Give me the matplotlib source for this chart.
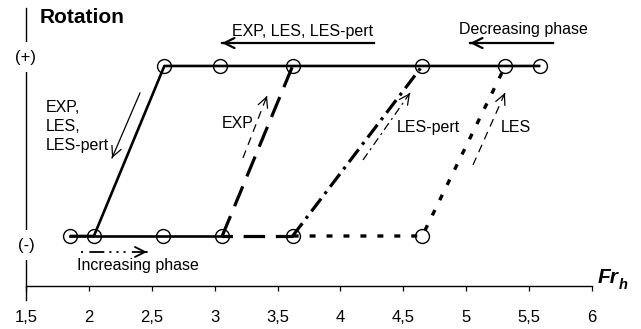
import matplotlib
matplotlib.use("Agg")
import matplotlib.pyplot as plt

plt.rcParams['font.family'] = ['Liberation Sans', 'DejaVu Sans']
plt.rcParams['lines.scale_dashes'] = False

# rotation state: 0 = (-), 1 = (+)
fr_top = [2.60, 3.04, 3.62, 4.65, 5.31, 5.59]
fr_bot = [1.85, 2.04, 2.59, 3.06, 3.62, 4.65]

# decreasing phase, shared by EXP, LES, LES-pert
dec_fr = [5.59, 2.60, 2.04, 1.85]
dec_rot = [1, 1, 0, 0]
# increasing phase, shared part
inc_fr = [1.85, 3.06]
inc_rot = [0, 0]
# EXP jump
exp_fr = [3.06, 3.62]
exp_rot = [0, 1]
# LES / LES-pert still (-)
les2_fr = [3.06, 3.62]
les2_rot = [0, 0]
# LES-pert jump
pert_fr = [3.62, 4.65]
pert_rot = [0, 1]
# LES (-) then jump
les_fr = [3.62, 4.65, 5.31]
les_rot = [0, 0, 1]

xticks = [1.5, 2, 2.5, 3, 3.5, 4, 4.5, 5, 5.5, 6]
xticklabels = ["1,5", "2", "2,5", "3", "3,5", "4", "4,5", "5", "5,5", "6"]

fig = plt.figure(figsize=(6.41, 3.29), dpi=100)
ax = fig.add_axes([26 / 641, 29 / 329, 566 / 641, 292 / 329])
ax.set_xlim(1.5, 6)
ax.set_ylim(-0.3765, 1.341)

k = 'black'
ax.plot(dec_fr, dec_rot, color=k, lw=1.9, solid_capstyle='butt')
ax.plot(inc_fr, inc_rot, color=k, lw=1.9)
ax.plot(exp_fr, exp_rot, color=k, lw=2.3, ls=(0, (15.5, 7.7)))
ax.plot(les2_fr, les2_rot, color=k, lw=2.3, ls=(8, (15.5, 7.7)))
ax.plot(pert_fr, pert_rot, color=k, lw=2.3, ls=(0, (11.5, 4.3, 2.2, 4.3)))
ax.plot(les_fr, les_rot, color=k, lw=2.4, ls=(0, (4.3, 7.9)))

ax.plot(fr_top, [1] * len(fr_top), 'o', ms=10, mfc='none', mec=k, mew=1.0)
ax.plot(fr_bot, [0] * len(fr_bot), 'o', ms=10, mfc='none', mec=k, mew=1.0)


def arrow(x0, y0, x1, y1, ls='-', lw=1.0):
    # shaft drawn as a line, head solid
    ax.plot([x0, x1], [y0, y1], color=k, lw=lw, ls=ls, clip_on=False)
    dx, dy = (x1 - x0) * 0.01, (y1 - y0) * 0.01
    ax.annotate('', xy=(x1, y1), xytext=(x1 - dx, y1 - dy),
                arrowprops=dict(arrowstyle='->,head_length=0.6,head_width=0.3',
                                color=k, lw=lw, shrinkA=0, shrinkB=0,
                                mutation_scale=12))


arrow(4.267, 1.135, 3.058, 1.135, lw=1.6)
arrow(5.690, 1.135, 5.030, 1.135, lw=1.6)
arrow(2.406, 0.841, 2.184, 0.459, lw=0.9)
arrow(3.225, 0.459, 3.416, 0.824, ls=(0, (5.8, 4.3)), lw=0.9)
arrow(4.179, 0.447, 4.553, 0.841, ls=(0, (5.8, 3.0, 1.5, 3.0)), lw=0.9)
arrow(5.054, 0.418, 5.308, 0.841, ls=(0, (5.8, 4.3)), lw=0.9)
arrow(1.937, -0.094, 2.462, -0.094, ls=(0, (1.5, 4.5, 10.8, 3.6, 1.5, 3.6, 1.5, 3.6)), lw=1.3)

fs = 11.5
ax.text(1.611, 1.288, "Rotation", fontsize=15, fontweight='bold', ha='left', va='center')
bb = dict(boxstyle='square,pad=0.45', fc='white', ec='none')
ax.text(1.5, 1.05, "(+)", fontsize=12, ha='center', va='center', bbox=bb)
ax.text(1.5, -0.053, "(-)", fontsize=12, ha='center', va='center', bbox=bb)
ax.text(3.138, 1.20, "EXP, LES, LES-pert", fontsize=fs, ha='left', va='center')
ax.text(4.942, 1.212, "Decreasing phase", fontsize=fs, ha='left', va='center')
ax.text(1.659, 0.644, "EXP,\nLES,\nLES-pert", fontsize=fs, ha='left', va='center',
        linespacing=1.35)
ax.text(3.058, 0.659, "EXP", fontsize=fs, ha='left', va='center')
ax.text(4.45, 0.641, "LES-pert", fontsize=fs, ha='left', va='center')
ax.text(5.276, 0.641, "LES", fontsize=fs, ha='left', va='center')
ax.text(1.905, -0.176, "Increasing phase", fontsize=fs, ha='left', va='center')
ax.text(6.048, -0.247, "Fr", fontsize=15, fontweight='bold', fontstyle='italic',
        ha='left', va='center', clip_on=False)
ax.text(6.215, -0.29, "h", fontsize=10.5, fontweight='bold', fontstyle='italic',
        ha='left', va='center', clip_on=False)

for s in ['top', 'right']:
    ax.spines[s].set_visible(False)
ax.spines['left'].set_linewidth(1.0)
ax.spines['bottom'].set_linewidth(1.0)
ax.spines['bottom'].set_position(('data', -0.294))
ax.set_yticks([])
ax.set_xticks(xticks)
ax.set_xticklabels(xticklabels)
ax.tick_params(axis='x', direction='out', length=3.8, width=0.9, pad=13.5, labelsize=12)

fig.savefig("out.png", dpi=100)
